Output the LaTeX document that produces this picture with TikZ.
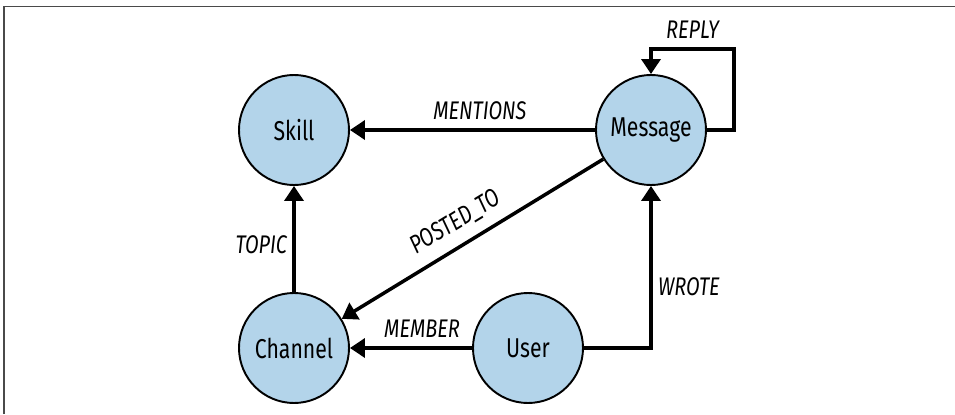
\documentclass[tikz,border=0pt]{standalone}
\usepackage{fontspec}
\setmainfont{Fira Sans}[FakeStretch=0.78]
\usepackage{tikz}
\usetikzlibrary{arrows.meta,positioning,calc}
\definecolor{nodefill}{HTML}{B3D4EA}
\definecolor{ink}{HTML}{000000}
\definecolor{framegray}{HTML}{4A4A4A}
\tikzset{
  entity/.style={
    draw=ink, fill=nodefill, circle, line width=1.1pt,
    minimum size=2.2cm, inner sep=0pt,
    font=\fontsize{15.5}{17}\selectfont
  },
  rel/.style={
    draw=ink, line width=2pt,
    -{Triangle[length=0.3cm,width=0.38cm]}
  },
  rellabel/.style={
    font=\itshape\fontsize{14.5}{16}\selectfont, inner sep=3pt
  }
}

\begin{document}
\begin{tikzpicture}
  \useasboundingbox (0,0) rectangle (19.1,-8.28);
  \draw[framegray, line width=0.85pt] (0.08,-8.28) |- (19.1,-0.13);

  \node[entity] (skill)   at (5.88,-2.6)   {Skill};
  \node[entity] (message) at (13.02,-2.6)  {Message};
  \node[entity] (channel) at (5.88,-6.96)  {Channel};
  \node[entity] (user)    at (10.56,-6.96) {User};

  \draw[rel] (message) -- node[rellabel, above=2pt, pos=0.47] {MENTIONS} (skill);
  \draw[rel] (message) -- node[rellabel, above=3pt, sloped, pos=0.52] {POSTED\_TO} (channel);
  \draw[rel] (channel) -- node[rellabel, left, pos=0.45] {TOPIC} (skill);
  \draw[rel] (user) -- node[rellabel, above=2pt, pos=0.41] {MEMBER} (channel);
  \draw[rel] (user) -| node[rellabel, right, pos=0.69] {WROTE} (message);
  \draw[rel] (message.east) -- ++(0.54,0) |- ([yshift=0.5cm]message.north)
    node[rellabel, above=2pt, pos=0.75] {REPLY} -- (message.north);
\end{tikzpicture}
\end{document}
